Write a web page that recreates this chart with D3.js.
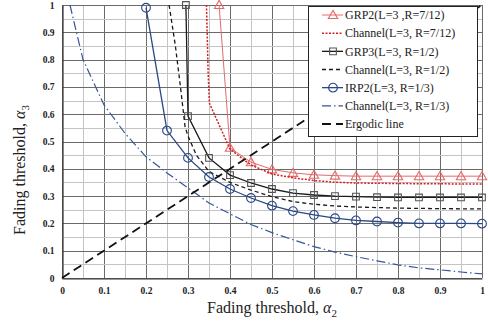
<!DOCTYPE html>
<html>
<head>
<meta charset="utf-8">
<script src="https://cdn.jsdelivr.net/npm/d3@7"></script>
<style>
  body { margin: 0; background: #fff; }
  svg { display: block; font-family: 'Liberation Serif', 'Times New Roman', serif; }
</style>
</head>
<body>
<svg id="chart" width="488" height="322"></svg>
<script>
// tick values
const ticks = [0, 0.1, 0.2, 0.3, 0.4, 0.5, 0.6, 0.7, 0.8, 0.9, 1]
const gridTicks = d3.range(0, 21).map((i) => i / 20)

// GRP2 (L=3, R=7/12)
const grp2X = [0.374, 0.4, 0.45, 0.5, 0.55, 0.6, 0.65, 0.7, 0.75, 0.8, 0.85, 0.9, 0.95, 1.0]
const grp2Y = [1.0, 0.477, 0.424, 0.398, 0.385, 0.378, 0.375, 0.373, 0.373, 0.373, 0.373, 0.373, 0.373, 0.373]

// Channel (L=3, R=7/12)
const ch712X = [0.344, 0.348, 0.351, 0.4, 0.45, 0.5, 0.55, 0.6, 0.65, 0.7, 0.8, 0.9, 1.0]
const ch712Y = [1.0, 0.75, 0.64, 0.472, 0.414, 0.381, 0.367, 0.357, 0.351, 0.348, 0.346, 0.345, 0.344]

// GRP3 (L=3, R=1/2)
const grp3X = [0.295, 0.3, 0.35, 0.4, 0.45, 0.5, 0.55, 0.6, 0.65, 0.7, 0.75, 0.8, 0.85, 0.9, 0.95, 1.0]
const grp3Y = [1.0, 0.593, 0.44, 0.377, 0.348, 0.326, 0.311, 0.304, 0.3, 0.298, 0.296, 0.295, 0.295, 0.295, 0.295, 0.295]

// Channel (L=3, R=1/2)
const ch12X = [0.255, 0.27, 0.281, 0.293, 0.3, 0.32, 0.35, 0.4, 0.45, 0.5, 0.55, 0.6, 0.65, 0.7, 0.8, 0.9, 1.0]
const ch12Y = [1.0, 0.85, 0.714, 0.554, 0.52, 0.45, 0.39, 0.35, 0.322, 0.298, 0.28, 0.27, 0.264, 0.26, 0.256, 0.254, 0.253]

// IRP2 (L=3, R=1/3)
const irp2X = [0.2, 0.25, 0.3, 0.35, 0.4, 0.45, 0.5, 0.55, 0.6, 0.65, 0.7, 0.75, 0.8, 0.85, 0.9, 0.95, 1.0]
const irp2Y = [0.99, 0.54, 0.44, 0.37, 0.326, 0.293, 0.265, 0.245, 0.231, 0.219, 0.211, 0.207, 0.203, 0.2, 0.2, 0.2, 0.199]

// Channel (L=3, R=1/3)
const ch13X = [0.019, 0.05, 0.1, 0.15, 0.2, 0.25, 0.3, 0.35, 0.4, 0.45, 0.5, 0.55, 0.6, 0.65, 0.7, 0.75, 0.8, 0.85, 0.9, 0.95, 1.0]
const ch13Y = [1.0, 0.8, 0.634, 0.53, 0.444, 0.385, 0.33, 0.275, 0.235, 0.196, 0.166, 0.14, 0.115, 0.095, 0.078, 0.063, 0.048, 0.037, 0.03, 0.022, 0.015]

// Ergodic line
const ergX = [0, 1]
const ergY = [0, 1]

const legendLabels = [
  'GRP2(L=3 ,R=7/12)',
  'Channel(L=3, R=7/12)',
  'GRP3(L=3, R=1/2)',
  'Channel(L=3, R=1/2)',
  'IRP2(L=3, R=1/3)',
  'Channel(L=3, R=1/3)',
  'Ergodic line',
]

const zip = (xs, ys) => xs.map((x, i) => [x, ys[i]])

const series = [
  { data: zip(grp2X, grp2Y), color: '#e36a6a', width: 1, dash: null, marker: 'triangle', mcolor: '#e36a6a' },
  { data: zip(ch712X, ch712Y), color: '#d81e1e', width: 1.5, dash: '2,1.5', marker: null },
  { data: zip(grp3X, grp3Y), color: '#1a1a1a', width: 1.3, dash: null, marker: 'square', mcolor: '#555' },
  { data: zip(ch12X, ch12Y), color: '#1a1a1a', width: 1.3, dash: '4,3', marker: null },
  { data: zip(irp2X, irp2Y), color: '#2a4785', width: 1.3, dash: null, marker: 'circle', mcolor: '#2a4785' },
  { data: zip(ch13X, ch13Y), color: '#35559a', width: 1.2, dash: '9,3,1.5,3', marker: null },
  { data: zip(ergX, ergY), color: '#111', width: 1.8, dash: '9,5', marker: null },
]

const svg = d3.select('#chart')
const padL = 62
const padR = 482
const padT = 5
const padB = 278

const x = d3.scaleLinear().domain([0, 1]).range([padL, padR])
const y = d3.scaleLinear().domain([0, 1]).range([padB, padT])

// grid
const grid = svg.append('g')
grid
  .selectAll('.vg')
  .data(gridTicks)
  .enter()
  .append('line')
  .attr('x1', (d) => Math.round(x(d)) + 0.5)
  .attr('x2', (d) => Math.round(x(d)) + 0.5)
  .attr('y1', padT)
  .attr('y2', padB)
  .attr('stroke', (d, i) => (i % 2 === 0 ? '#6a6a6a' : '#c4c4c4'))
  .attr('stroke-width', 1)
grid
  .selectAll('.hg')
  .data(gridTicks)
  .enter()
  .append('line')
  .attr('y1', (d) => Math.round(y(d)) + 0.5)
  .attr('y2', (d) => Math.round(y(d)) + 0.5)
  .attr('x1', padL)
  .attr('x2', padR)
  .attr('stroke', (d, i) => (i % 2 === 0 ? '#6a6a6a' : '#c4c4c4'))
  .attr('stroke-width', 1)

// axes
const xAxis = d3.axisBottom(x).tickValues(ticks).tickSize(0).tickPadding(9).tickFormat(d3.format('~g'))
const yAxis = d3.axisLeft(y).tickValues(ticks).tickSize(0).tickPadding(8).tickFormat(d3.format('~g'))

const gx = svg.append('g').attr('transform', `translate(0,${padB + 0.5})`).call(xAxis)
const gy = svg.append('g').attr('transform', `translate(${padL + 0.5},0)`).call(yAxis)
;[gx, gy].forEach((g) => {
  g.select('.domain').attr('stroke', '#333').attr('stroke-width', 1.2)
  g.selectAll('text')
    .attr('font-family', "'Liberation Serif', serif")
    .attr('font-weight', 'bold')
    .attr('font-size', 9.5)
    .attr('fill', '#222')
})

// series
const line = d3
  .line()
  .x((d) => x(d[0]))
  .y((d) => y(d[1]))

const symbols = {
  triangle: d3.symbol().type(d3.symbolTriangle).size(38),
  square: d3.symbol().type(d3.symbolSquare).size(45),
  circle: d3.symbol().type(d3.symbolCircle).size(60),
}

series.forEach((s) => {
  svg
    .append('path')
    .datum(s.data)
    .attr('d', line)
    .attr('fill', 'none')
    .attr('stroke', s.color)
    .attr('stroke-width', s.width)
    .attr('stroke-dasharray', s.dash)
  if (s.marker) {
    svg
      .append('g')
      .selectAll('path')
      .data(s.data)
      .enter()
      .append('path')
      .attr('transform', (d) => `translate(${x(d[0])},${y(d[1]) + (s.marker === 'triangle' ? 0.8 : 0)})`)
      .attr('d', symbols[s.marker])
      .attr('fill', 'none')
      .attr('stroke', s.mcolor)
      .attr('stroke-width', 1.1)
  }
})

// legend
const lg = svg.append('g')
lg.append('rect')
  .attr('x', 308.5)
  .attr('y', 6.5)
  .attr('width', 169)
  .attr('height', 130)
  .attr('fill', '#fff')
  .attr('stroke', '#222')
  .attr('stroke-width', 1)

const rowY = d3.scalePoint().domain(d3.range(7)).range([15, 124])

series.forEach((s, i) => {
  const yy = rowY(i)
  lg.append('line')
    .attr('x1', 322)
    .attr('x2', 343)
    .attr('y1', yy)
    .attr('y2', yy)
    .attr('stroke', s.color)
    .attr('stroke-width', s.width)
    .attr('stroke-dasharray', s.dash)
  if (s.marker) {
    lg.append('path')
      .attr('transform', `translate(333,${yy + (s.marker === 'triangle' ? 0.8 : 0)})`)
      .attr('d', symbols[s.marker])
      .attr('fill', 'none')
      .attr('stroke', s.mcolor)
      .attr('stroke-width', 1.1)
  }
  lg.append('text')
    .attr('x', 345)
    .attr('y', yy)
    .attr('dy', '0.35em')
    .attr('font-size', 12)
    .attr('fill', '#222')
    .text(legendLabels[i])
})

// axis titles
const xt = svg
  .append('text')
  .attr('x', 272)
  .attr('y', 313)
  .attr('text-anchor', 'middle')
  .attr('font-size', 16)
  .attr('fill', '#222')
xt.append('tspan').text('Fading threshold, ')
xt.append('tspan').attr('font-style', 'italic').text('α')
xt.append('tspan').attr('font-size', 11).attr('dy', 4).text('2')

const yt = svg
  .append('text')
  .attr('transform', 'translate(25,170) rotate(-90)')
  .attr('text-anchor', 'middle')
  .attr('font-size', 16)
  .attr('fill', '#222')
yt.append('tspan').text('Fading threshold, ')
yt.append('tspan').attr('font-style', 'italic').text('α')
yt.append('tspan').attr('font-size', 11).attr('dy', 4).text('3')
</script>
</body>
</html>
